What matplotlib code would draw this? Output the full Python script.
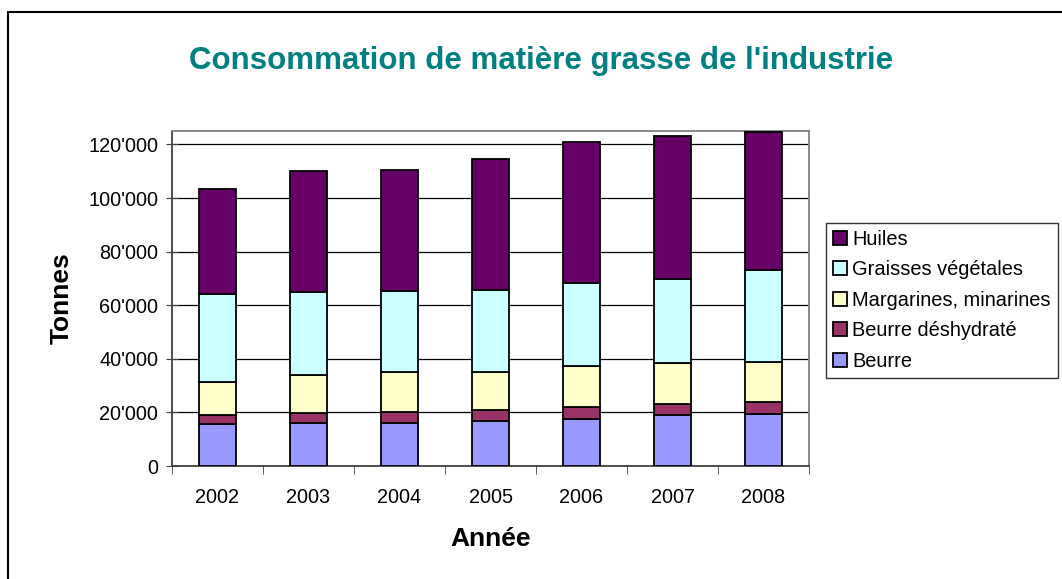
import matplotlib
matplotlib.use("Agg")
import matplotlib.pyplot as plt
from matplotlib.ticker import FuncFormatter, MultipleLocator
from matplotlib.patches import Rectangle

plt.rcParams['font.family'] = ['Liberation Sans', 'DejaVu Sans']

years = ['2002', '2003', '2004', '2005', '2006', '2007', '2008']
beurre = [15500, 15900, 16200, 16800, 17500, 18900, 19500]
beurre_deshydrate = [3400, 3750, 4100, 4200, 4400, 4350, 4250]
margarines = [12500, 14300, 14900, 14200, 15400, 15050, 14950]
graisses = [32700, 31000, 30100, 30500, 30900, 31600, 34450]
huiles = [39100, 45200, 45300, 48900, 52700, 53300, 51650]

series = [
    ('Beurre', beurre, '#9999FF'),
    ('Beurre déshydraté', beurre_deshydrate, '#993366'),
    ('Margarines, minarines', margarines, '#FFFFCC'),
    ('Graisses végétales', graisses, '#CCFFFF'),
    ('Huiles', huiles, '#660066'),
]

fig = plt.figure(figsize=(10.62, 5.79), dpi=100)
ax = fig.add_axes([172/1062, 1 - 466/579, (809-172)/1062, (466-131)/579])

# outer chart border
fig.patches.append(Rectangle((8/1062, -0.05), 1.2, 1 - 12/579 + 0.05, transform=fig.transFigure,
                             fill=False, edgecolor='black', linewidth=1.5))

x = list(range(len(years)))
bottom = [0] * len(years)
handles = []
for name, vals, color in series:
    b = ax.bar(x, vals, width=0.41, bottom=bottom, color=color, edgecolor='black',
               linewidth=1.3, label=name, zorder=3)
    handles.append(b)
    bottom = [bo + v for bo, v in zip(bottom, vals)]

ax.set_xlim(-0.5, len(years) - 0.5)
ax.set_ylim(0, 125000)
ax.yaxis.set_major_locator(MultipleLocator(20000))
ax.yaxis.set_major_formatter(FuncFormatter(lambda v, p: f"{int(v):,}".replace(',', "'")))
ax.grid(axis='y', color='black', linewidth=0.9, zorder=0)
ax.set_axisbelow(True)

ax.set_xticks(x)
ax.set_xticklabels(years)
ax.set_xticks([i - 0.5 for i in range(len(years) + 1)], minor=True)
ax.tick_params(axis='x', which='major', length=0, labelsize=14.3, pad=16)
ax.tick_params(axis='x', which='minor', length=6, direction='out', color='#404040')
ax.tick_params(axis='y', length=8, direction='inout', labelsize=14.3, pad=6, color='#404040')

for s in ['top', 'right']:
    ax.spines[s].set_color('#808080')
    ax.spines[s].set_linewidth(1.3)
for s in ['left', 'bottom']:
    ax.spines[s].set_color('#404040')
    ax.spines[s].set_linewidth(1.3)

ax.set_ylabel('Tonnes', fontsize=19, fontweight='bold', labelpad=10)
ax.set_xlabel('Année', fontsize=19, fontweight='bold', labelpad=14)

fig.text(541/1062, 1 - 61/579, "Consommation de matière grasse de l'industrie",
         ha='center', va='center', fontsize=22.5, fontweight='bold', color='#008080')

leg = fig.legend(handles[::-1], [s[0] for s in series][::-1], loc='upper left',
                 bbox_to_anchor=(826/1062, 1 - 223/579), fontsize=14.4,
                 frameon=True, fancybox=False, edgecolor='black', handlelength=0.7,
                 handleheight=0.7, handletextpad=0.25, labelspacing=0.57,
                 borderpad=0.35, borderaxespad=0)
leg.get_frame().set_linewidth(1.0)

fig.savefig('out.png', dpi=100)
